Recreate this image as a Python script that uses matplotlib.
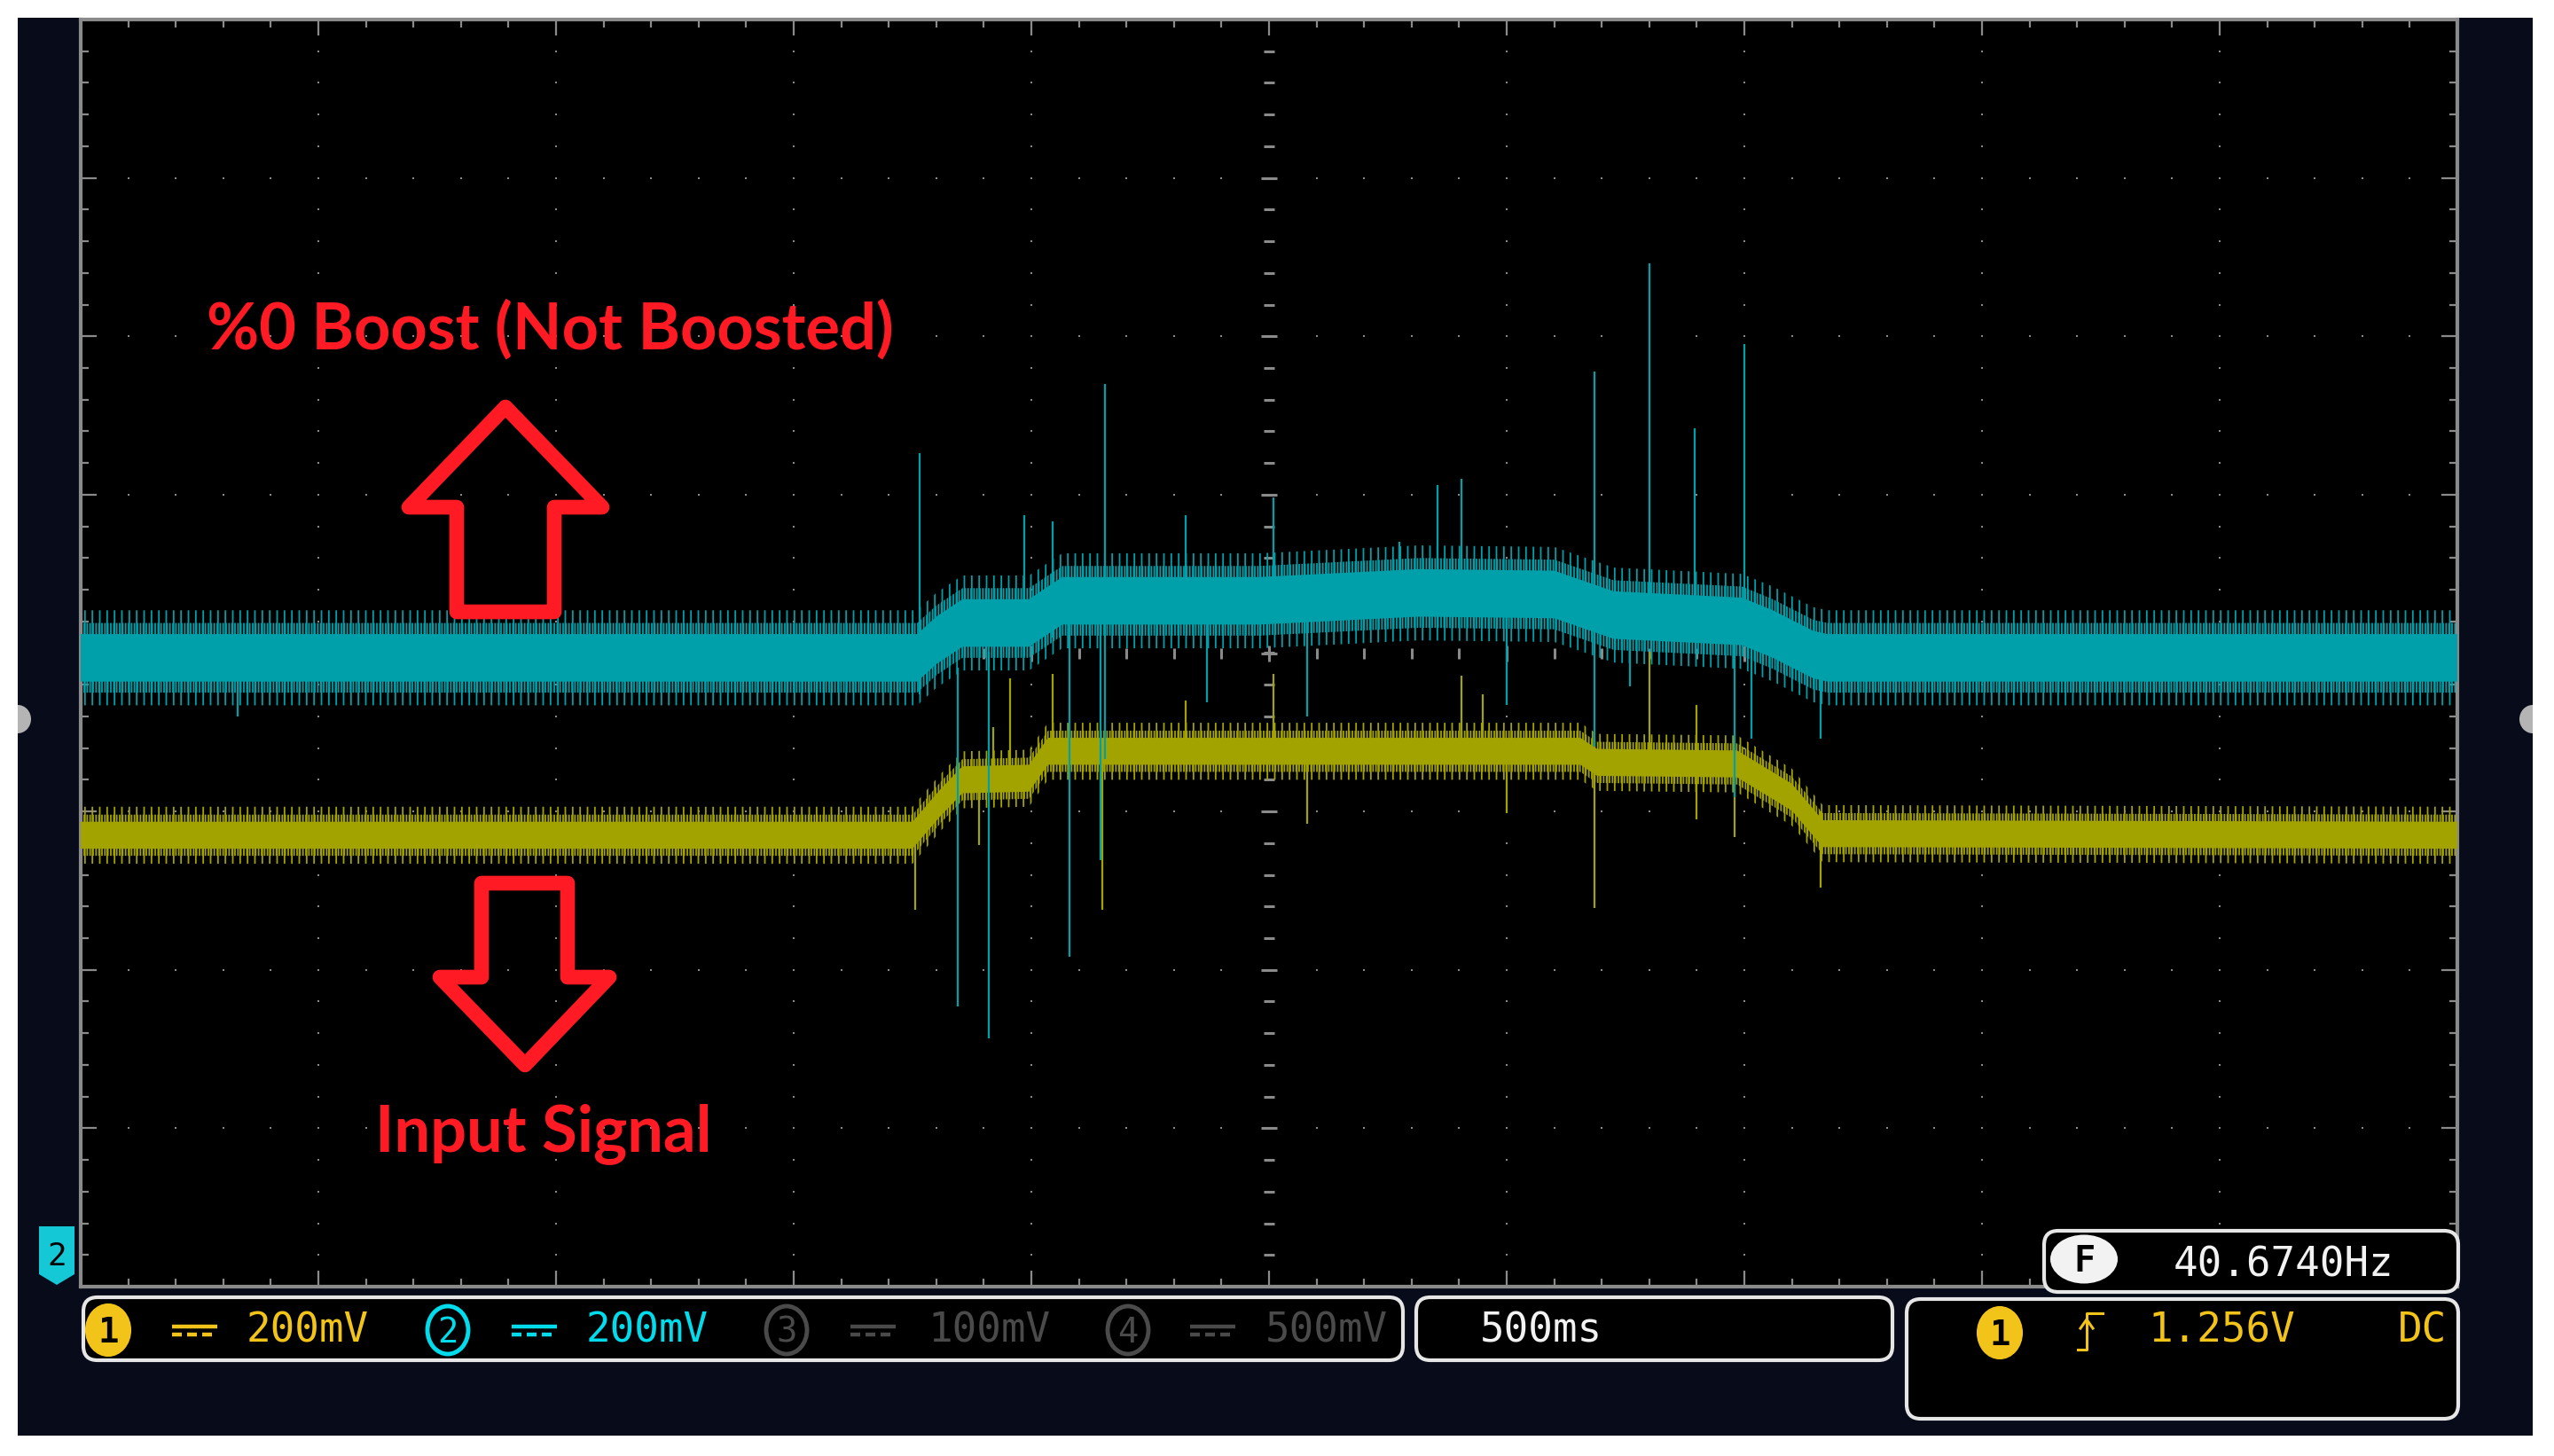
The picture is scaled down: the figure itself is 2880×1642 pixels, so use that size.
import numpy as np
import matplotlib
matplotlib.use("Agg")
import matplotlib.pyplot as plt
from matplotlib.patches import Rectangle, Ellipse, Polygon, FancyBboxPatch

# ---------------- data (x: time in divisions, 500 ms/div ; y: divisions, 200 mV/div) ----
cyan_t = [0.00, 3.52, 3.60, 3.71, 3.99, 4.13, 4.96, 5.63, 6.20, 6.45, 6.99, 7.12, 7.29, 7.35, 10.0]
cyan_level = [-0.03, -0.03, 0.08, 0.19, 0.19, 0.33, 0.33, 0.38, 0.37, 0.24, 0.20, 0.12, -0.01, -0.03, -0.03]
cyan_noise = [0.15, 0.22, 0.30]          # core / mid / peak half-width of the noise band

yellow_t = [0.00, 3.50, 3.54, 3.62, 3.71, 3.99, 4.07, 6.31, 6.38, 6.97, 7.20, 7.33, 10.0]
yellow_level = [-1.15, -1.15, -1.08, -0.94, -0.80, -0.79, -0.62, -0.62, -0.69, -0.70, -0.91, -1.14, -1.15]
yellow_noise = [0.085, 0.13, 0.18]

cyan_spike_x = [3.53, 3.69, 3.82, 3.97, 4.09, 4.16, 4.31, 4.29, 4.65, 4.74, 5.02, 5.16,
                5.55, 5.71, 5.81, 6.00, 6.37, 6.60, 6.79, 7.00, 6.96, 7.03, 7.32, 6.52, 0.66]
cyan_spike_lo = [-0.26, -2.23, -2.43, -0.02, 0.10, -1.92, -0.67, -1.31, 0.20, -0.31, 0.20, -0.40,
                 0.25, 0.25, 0.25, -0.33, -0.59, 0.25, 0.20, 0.15, -0.91, -0.54, -0.54, -0.21, -0.40]
cyan_spike_hi = [1.26, -0.09, 0.01, 0.87, 0.83, 0.20, 1.70, 0.20, 0.87, 0.20, 0.98, 0.25,
                 0.70, 1.06, 1.10, 0.25, 1.78, 2.46, 1.42, 1.95, 0.15, 0.15, 0.00, 0.20, -0.10]

yellow_spike_x = [3.51, 3.91, 4.09, 3.78, 4.30, 5.02, 5.16, 4.65, 3.84, 5.81, 5.90, 6.37, 6.80, 6.96, 7.32, 6.60, 6.00]
yellow_spike_lo = [-1.62, -0.85, -0.65, -1.21, -1.62, -0.65, -1.08, -0.62, -0.80, -0.62, -0.62, -1.61, -1.05, -1.16, -1.48, -0.62, -1.01]
yellow_spike_hi = [-1.15, -0.16, -0.13, -0.80, -0.65, -0.13, -0.62, -0.30, -0.47, -0.14, -0.26, -0.62, -0.33, -0.70, -1.00, 0.01, -0.62]

ch_labels = ["200mV", "200mV", "100mV", "500mV"]
timebase_label = "500ms"
freq_label = "40.6740Hz"
trig_level_label = "1.256V"
trig_coupling = "DC"
top_note = "%0 Boost (Not Boosted)"
bottom_note = "Input Signal"

# ---------------- colours ----------------
NAVY = "#070b1a"
GRID = "#8a8a8a"
CYAN_TR = "#00a0aa"
YEL_TR = "#a3a300"
CYAN_TX = "#00dcec"
YEL_TX = "#f2c318"
GRAY_TX = "#4a4a4a"
WHITE_TX = "#f2f2f2"
RED = "#ff1a24"

plt.rcParams["hatch.linewidth"] = 1.3

W, H = 2880, 1642
fig = plt.figure(figsize=(W / 100, H / 100), dpi=100, facecolor="white")

# background panel
bg = fig.add_axes([0, 0, 1, 1], zorder=0)
bg.set_xlim(0, W); bg.set_ylim(H, 0); bg.axis("off")
navy = Rectangle((20, 20), 2836, 1599, facecolor=NAVY, edgecolor="none")
bg.add_patch(navy)
for cx in (20, 2856):
    e = Ellipse((cx, 811), 30, 32, facecolor="#b4b4b4", edgecolor="none")
    bg.add_patch(e)
    e.set_clip_path(navy)

# ---------------- scope screen ----------------
x0, x1, y0, y1 = 91, 2771, 22, 1451
ax = fig.add_axes([x0 / W, 1 - y1 / H, (x1 - x0) / W, (y1 - y0) / H], zorder=1)
ax.set_facecolor("black")
ax.set_xlim(0, 10); ax.set_ylim(-4, 4)
for s in ax.spines.values():
    s.set_color(GRID); s.set_linewidth(3)
ax.set_xticks(np.arange(0, 10.01, 1)); ax.set_xticks(np.arange(0, 10.01, 0.2), minor=True)
ax.set_yticks(np.arange(-4, 4.01, 1)); ax.set_yticks(np.arange(-4, 4.01, 0.2), minor=True)
ax.tick_params(which="both", direction="in", top=True, right=True, bottom=True, left=True,
               labelbottom=False, labelleft=False, color=GRID, width=1.6)
ax.tick_params(which="major", length=13)
ax.tick_params(which="minor", length=6.5)

mx = np.arange(0, 10.01, 0.2)
my = np.arange(-4, 4.01, 0.2)
for gx in range(1, 10):
    if gx == 5:
        continue
    ax.plot(np.full_like(my, gx), my, ls="none", marker="s", ms=2.0, color=GRID, mew=0, zorder=1)
for gy in range(-3, 4):
    if gy == 0:
        continue
    ax.plot(mx, np.full_like(mx, gy), ls="none", marker="s", ms=2.0, color=GRID, mew=0, zorder=1)
# centre lines with short dashes
ax.plot(np.full_like(my, 5), my, ls="none", marker="_", ms=8, mew=2.2, color=GRID, zorder=1)
ax.plot(np.full(7, 5), np.arange(-3, 4), ls="none", marker="_", ms=13, mew=2.2, color=GRID, zorder=1)
ax.plot(mx, np.zeros_like(mx), ls="none", marker="|", ms=8, mew=2.2, color=GRID, zorder=1)
ax.plot(np.arange(1, 10), np.zeros(9), ls="none", marker="|", ms=13, mew=2.2, color=GRID, zorder=1)


def draw_trace(t, lev, noise, color, sx, slo, shi):
    t = np.asarray(t); lev = np.asarray(lev)
    core, mid, peak = noise
    # sparse long hairs, denser medium hairs, solid core
    ax.fill_between(t, lev - peak, lev + peak, facecolor="none", edgecolor=color, hatch="||", lw=0, zorder=2)
    ax.fill_between(t, lev - mid, lev + mid, facecolor="none", edgecolor=color, hatch="|||||", lw=0, zorder=2)
    ax.fill_between(t, lev - core, lev + core, facecolor=color, edgecolor="none", lw=0, zorder=3)
    ax.vlines(sx, slo, shi, colors=color, lw=1.6, zorder=4)


draw_trace(yellow_t, yellow_level, yellow_noise, YEL_TR, yellow_spike_x, yellow_spike_lo, yellow_spike_hi)
draw_trace(cyan_t, cyan_level, cyan_noise, CYAN_TR, cyan_spike_x, cyan_spike_lo, cyan_spike_hi)

# ---------------- overlay (annotations + status bar) ----------------
ov = fig.add_axes([0, 0, 1, 1], zorder=3)
ov.set_xlim(0, W); ov.set_ylim(H, 0); ov.axis("off")

# red annotations
ov.text(233, 393, top_note, color=RED, fontsize=52, fontweight="bold", family="Lato", va="baseline", ha="left")
ov.text(423, 1298, bottom_note, color=RED, fontsize=52, fontweight="bold", family="Lato", va="baseline", ha="left")
up_arrow = [(570, 459), (679, 572), (625, 572), (625, 690), (515, 690), (515, 572), (461, 572)]
down_arrow = [(543, 996), (640, 996), (640, 1102), (687, 1102), (592, 1201), (496, 1102), (543, 1102)]
for pts in (up_arrow, down_arrow):
    ov.add_patch(Polygon(pts, closed=True, facecolor="none", edgecolor=RED, lw=12, joinstyle="round"))

# channel 2 ground marker
ov.add_patch(Polygon([(44, 1383), (84, 1383), (84, 1437), (64, 1449), (44, 1437)], closed=True,
                     facecolor="#14c8d6", edgecolor="none"))
ov.text(64, 1427, "2", color="black", fontsize=26, family="DejaVu Sans Mono", ha="center", va="baseline")


def box(xa, ya, xb, yb):
    ov.add_patch(FancyBboxPatch((xa, ya), xb - xa, yb - ya, boxstyle="round,pad=0,rounding_size=16",
                                facecolor="black", edgecolor="#e6e6e6", lw=3))


box(94, 1463, 1582, 1534)
box(1597, 1463, 2134, 1534)
box(2150, 1465, 2772, 1600)
box(2305, 1388, 2772, 1457)

MONO = "DejaVu Sans Mono"
FS = 33


def chan_badge(cx, cy, num, color, filled):
    if filled:
        ov.add_patch(Ellipse((cx, cy), 50, 58, facecolor=color, edgecolor=color, lw=1.5))
        ov.text(cx, cy + 14, num, color="black", fontsize=28, fontweight="bold", family=MONO,
                ha="center", va="baseline")
    else:
        ov.add_patch(Ellipse((cx, cy), 46, 54, facecolor="black", edgecolor=color, lw=3.5))
        ov.text(cx, cy + 14, num, color=color, fontsize=28, family=MONO, ha="center", va="baseline")


def dc_symbol(xa, xb, y, color):
    ov.plot([xa, xb], [y - 4, y - 4], color=color, lw=3.2, solid_capstyle="butt")
    seg = (xb - xa) / 3.0
    for k in range(3):
        ov.plot([xa + k * seg, xa + k * seg + seg * 0.62], [y + 5, y + 5], color=color, lw=3.2,
                solid_capstyle="butt")


ch_colors = [YEL_TX, CYAN_TX, GRAY_TX, GRAY_TX]
badge_x = [122, 505, 887, 1272]
dc_x = [194, 577, 959, 1342]
lab_x = [278, 661, 1046, 1427]
for i in range(4):
    chan_badge(badge_x[i], 1500, str(i + 1), ch_colors[i], filled=(i == 0))
    dc_symbol(dc_x[i], dc_x[i] + 51, 1500, ch_colors[i])
    ov.text(lab_x[i], 1513, ch_labels[i], color=ch_colors[i], fontsize=FS, family=MONO,
            ha="left", va="baseline")

ov.text(1669, 1513, timebase_label, color=WHITE_TX, fontsize=FS, family=MONO, ha="left", va="baseline")

# frequency readout
ov.add_patch(Ellipse((2350, 1420), 76, 55, facecolor=WHITE_TX, edgecolor="none"))
ov.text(2350, 1434, "F", color="black", fontsize=29, fontweight="bold", family=MONO, ha="center", va="baseline")
ov.text(2451, 1440, freq_label, color=WHITE_TX, fontsize=FS, family=MONO, ha="left", va="baseline")

# trigger
chan_badge(2255, 1503, "1", YEL_TX, filled=True)
ov.plot([2343, 2353, 2353, 2371], [1522, 1522, 1481, 1481], color=YEL_TX, lw=2.2)
ov.plot([2346, 2353, 2360], [1498, 1488, 1498], color=YEL_TX, lw=2.2)
ov.text(2422, 1513, trig_level_label, color=YEL_TX, fontsize=FS, family=MONO, ha="left", va="baseline")
ov.text(2704, 1513, trig_coupling, color=YEL_TX, fontsize=FS, family=MONO, ha="left", va="baseline")

fig.savefig("out.png", dpi=100, facecolor="white")
